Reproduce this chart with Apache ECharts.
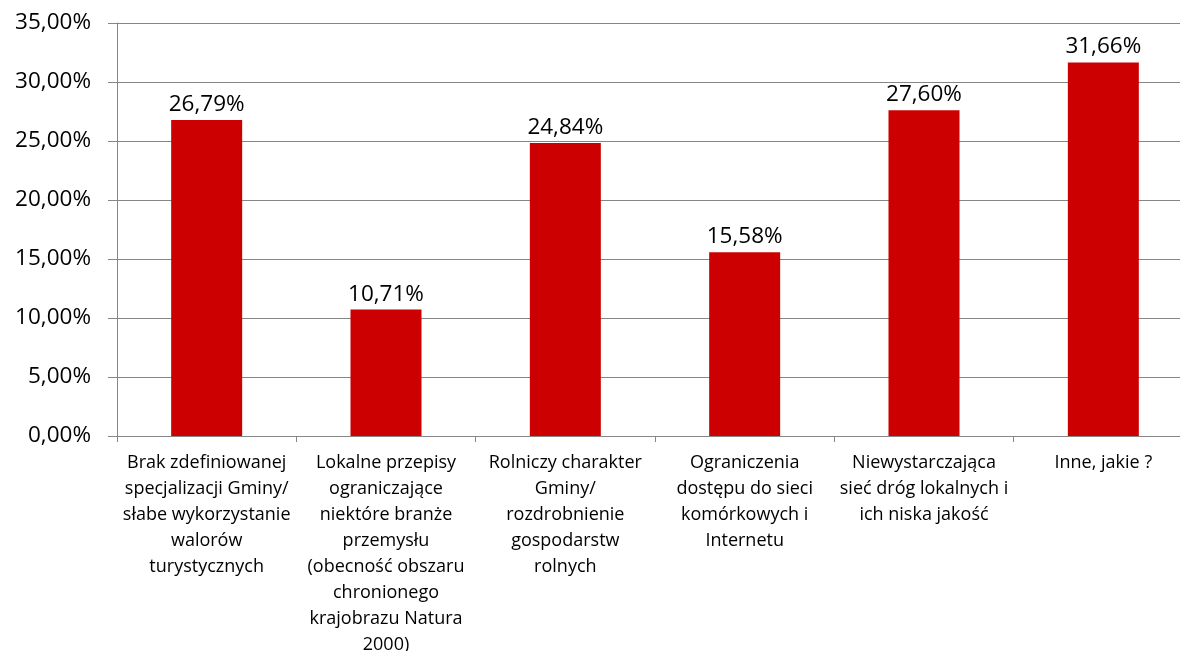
<!DOCTYPE html>
<html lang="pl">
<head>
    <meta charset="UTF-8">
    <title>Bariery rozwoju gminy</title>
    <script src="https://cdn.jsdelivr.net/npm/echarts@6.0.0/dist/echarts.min.js"></script>
    <style>
        html, body { margin: 0; padding: 0; background: #fff; }
        #main { width: 1180px; height: 651px; }
    </style>
</head>
<body>

<div id="main"></div>

<script>
    // kategorie (z ręcznymi podziałami wierszy jak w oryginale)
    const categories = [
        'Brak zdefiniowanej\nspecjalizacji Gminy/\nsłabe wykorzystanie\nwalorów\nturystycznych',
        'Lokalne przepisy\nograniczające\nniektóre branże\nprzemysłu\n(obecność obszaru\nchronionego\nkrajobrazu Natura\n2000)',
        'Rolniczy charakter\nGminy/\nrozdrobnienie\ngospodarstw\nrolnych',
        'Ograniczenia\ndostępu do sieci\nkomórkowych i\nInternetu',
        'Niewystarczająca\nsieć dróg lokalnych i\nich niska jakość',
        'Inne, jakie ?'
    ];
    // odsetek odpowiedzi (%)
    const values = [26.79, 10.71, 24.84, 15.58, 27.60, 31.66];

    const yMin = 0;
    const yMax = 35;
    const yStep = 5;

    const font = 'Open Sans';
    const gridColor = '#868686';

    const chart = echarts.init(document.getElementById('main'));

    // format z przecinkiem dziesiętnym
    function pct(v) {
        return v.toFixed(2).replace('.', ',') + '%';
    }

    const option = {
        animation: false,
        grid: {
            left: 117,
            top: 23,
            width: 1076,
            bottom: 215,
            containLabel: false,
            outerBoundsMode: 'none'
        },
        xAxis: {
            type: 'category',
            data: categories,
            axisLine: { lineStyle: { color: gridColor, width: 1 } },
            axisTick: {
                show: true,
                alignWithLabel: false,
                length: 6,
                lineStyle: { color: gridColor }
            },
            axisLabel: {
                interval: 0,
                margin: 14,
                color: '#000',
                fontFamily: font,
                fontSize: 18,
                lineHeight: 26,
                align: 'center'
            }
        },
        yAxis: {
            type: 'value',
            min: yMin,
            max: yMax,
            interval: yStep,
            axisLine: { show: true, lineStyle: { color: gridColor, width: 1 } },
            axisTick: { show: true, length: 9, lineStyle: { color: gridColor } },
            splitLine: { show: true, lineStyle: { color: gridColor, width: 1 } },
            axisLabel: {
                margin: 26,
                color: '#000',
                fontFamily: font,
                fontSize: 22.5,
                formatter: function (value) {
                    return pct(value);
                }
            }
        },
        series: [
            {
                type: 'bar',
                data: values,
                barWidth: 71,
                itemStyle: { color: '#CC0000' },
                label: {
                    show: true,
                    position: 'top',
                    distance: 4,
                    color: '#000',
                    fontFamily: font,
                    fontSize: 22.5,
                    formatter: function (p) {
                        return pct(p.value);
                    }
                }
            }
        ]
    };

    chart.setOption(option);
</script>

</body>
</html>
